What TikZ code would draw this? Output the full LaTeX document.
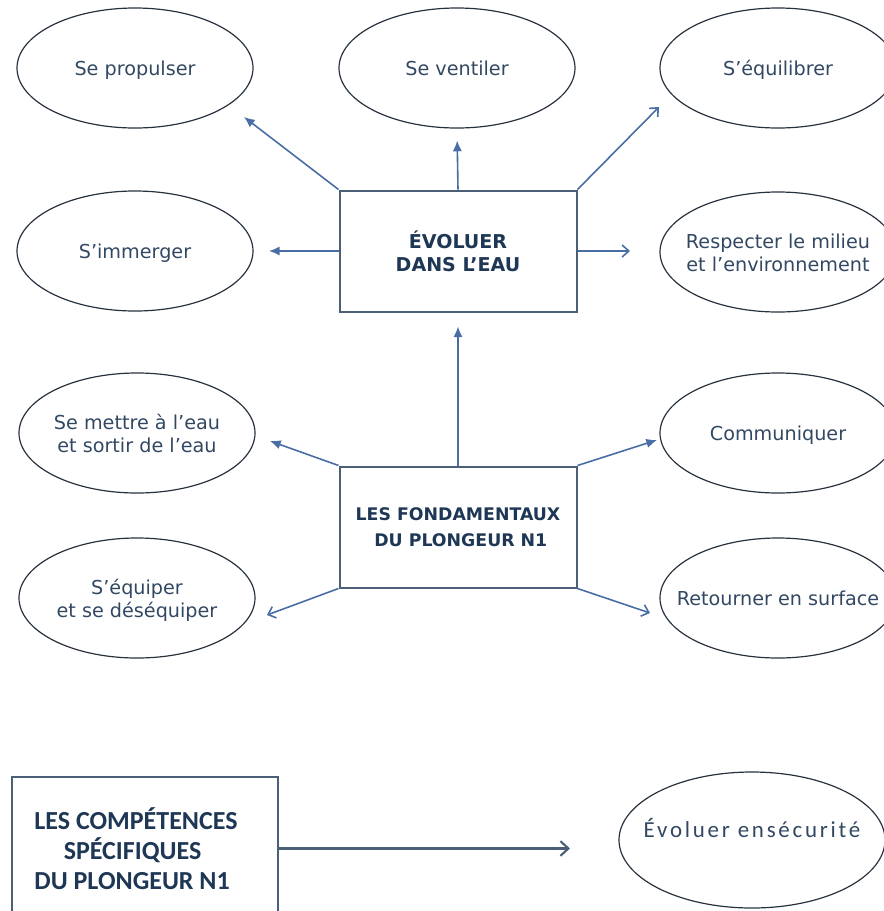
\documentclass[tikz,border=0pt]{standalone}
\usepackage{fontspec}
\setmainfont{DejaVu Sans}
\newfontfamily\narrowfont{Carlito}
\usetikzlibrary{shapes.geometric, arrows.meta}

\definecolor{ellc}{RGB}{40,50,62}
\definecolor{boxc}{RGB}{75,95,118}
\definecolor{txtc}{RGB}{50,72,98}
\definecolor{boldc}{RGB}{30,55,85}
\definecolor{arrc}{RGB}{72,110,165}

% text of fixed width zero, so that the ellipse keeps its size
\newcommand{\ellt}[1]{\makebox[0pt]{\raisebox{-2.2pt}[\height][\depth]{\begin{tabular}{@{}c@{}}#1\end{tabular}}}}

\tikzset{
	ell/.style={ellipse, draw=ellc, line width=.9pt, minimum width=177pt, minimum height=90pt, inner sep=0pt, text=txtc, font=\fontsize{14.4}{17.25}\selectfont},
	box/.style={rectangle, draw=boxc, line width=1.5pt, minimum width=177.75pt, minimum height=90.75pt, text=boldc, font=\bfseries\fontsize{14.3}{17.25}\selectfont},
	fullarr/.style={draw=arrc, line width=1.2pt, -{Latex[length=8pt,width=7pt]}},
	openarr/.style={draw=arrc, line width=1.2pt, -{Straight Barb[length=5pt,width=9pt]}},
}

\begin{document}
\begin{tikzpicture}[x=0.75pt,y=-0.75pt]
		\useasboundingbox (0,0) rectangle (884,911);
		\clip (0,0) rectangle (884,911);
		% Boxes
		\node[box, align=center] (evol) at (458,251) {ÉVOLUER\\DANS L’EAU};
		\node[box, align=left, font=\bfseries\fontsize{13}{19.5}\selectfont] (fond) at (458,527) {LES FONDAMENTAUX\\\hspace*{14pt}DU PLONGEUR N1};
		
		% Ellipses, top
		\node[ell] (prop) at (135,68) {\ellt{Se propulser}};
		\node[ell] (vent) at (457,68) {\ellt{Se ventiler}};
		\node[ell] (equi) at (778,68) {\ellt{S’équilibrer}};
		\node[ell] (imm) at (135,251) {\ellt{S’immerger}};
		\node[ell] (resp) at (778,252) {\ellt{Respecter le milieu\\et l’environnement}};
		% Ellipses, middle
		\node[ell] (mettre) at (137,433) {\ellt{Se mettre à l’eau\\et sortir de l’eau}};
		\node[ell] (equip) at (137,598) {\ellt{S’équiper\\et se déséquiper}};
		\node[ell] (com) at (778,433) {\ellt{Communiquer}};
		\node[ell] (ret) at (778,598) {\ellt{Retourner en surface}};
		
		% arrow tips
		\coordinate (tprop) at (244,117);
		\coordinate (tequi) at (659,107);
		\coordinate (timm) at (269,251);
		\coordinate (tresp) at (630,251);
		\coordinate (tmettre) at (270,441);
		\coordinate (tequip) at (267,615);
		\coordinate (tcom) at (657,440);
		\coordinate (tret) at (650,613);
		
		% Arrows from the boxes
		\draw[fullarr] (evol.north west) -- (tprop);
		\draw[fullarr, shorten >=9pt] (evol.north) -- (vent.south);
		\draw[openarr] (evol.north east) -- (tequi);
		\draw[fullarr] (evol.west) -- (timm);
		\draw[openarr] (evol.east) -- (tresp);
		\draw[fullarr, shorten >=10.5pt] (fond.north) -- (evol.south);
		\draw[fullarr] (fond.north west) -- (tmettre);
		\draw[openarr] (fond.south west) -- (tequip);
		\draw[fullarr] (fond.north east) -- (tcom);
		\draw[openarr] (fond.south east) -- (tret);
		
		% Bottom part
		\node[rectangle, draw=boxc, line width=1.5pt, minimum width=199.5pt, minimum height=107pt] (comp) at (145,848.5) {};
		\node[text=boldc, align=left, font=\narrowfont\bfseries\fontsize{19.5}{22.5}\selectfont] (comptxt) at (136,848.5) {LES COMPÉTENCES\\\hspace*{22pt}SPÉCIFIQUES\\DU PLONGEUR N1};
		\node[ell, minimum width=199.5pt, minimum height=102pt, font=\narrowfont\addfontfeature{LetterSpace=12}\fontsize{17.2}{20}\selectfont] (secu) at (752,840) {\ellt{\raisebox{8pt}[\height][\depth]{Évoluer ensécurité}}};
		\coordinate (tsecu) at (570,848.5);
		\draw[draw=boxc, line width=1.6pt, -{Straight Barb[length=6pt,width=11pt]}] (comp.east) -- (tsecu);
	\end{tikzpicture}
\end{document}
